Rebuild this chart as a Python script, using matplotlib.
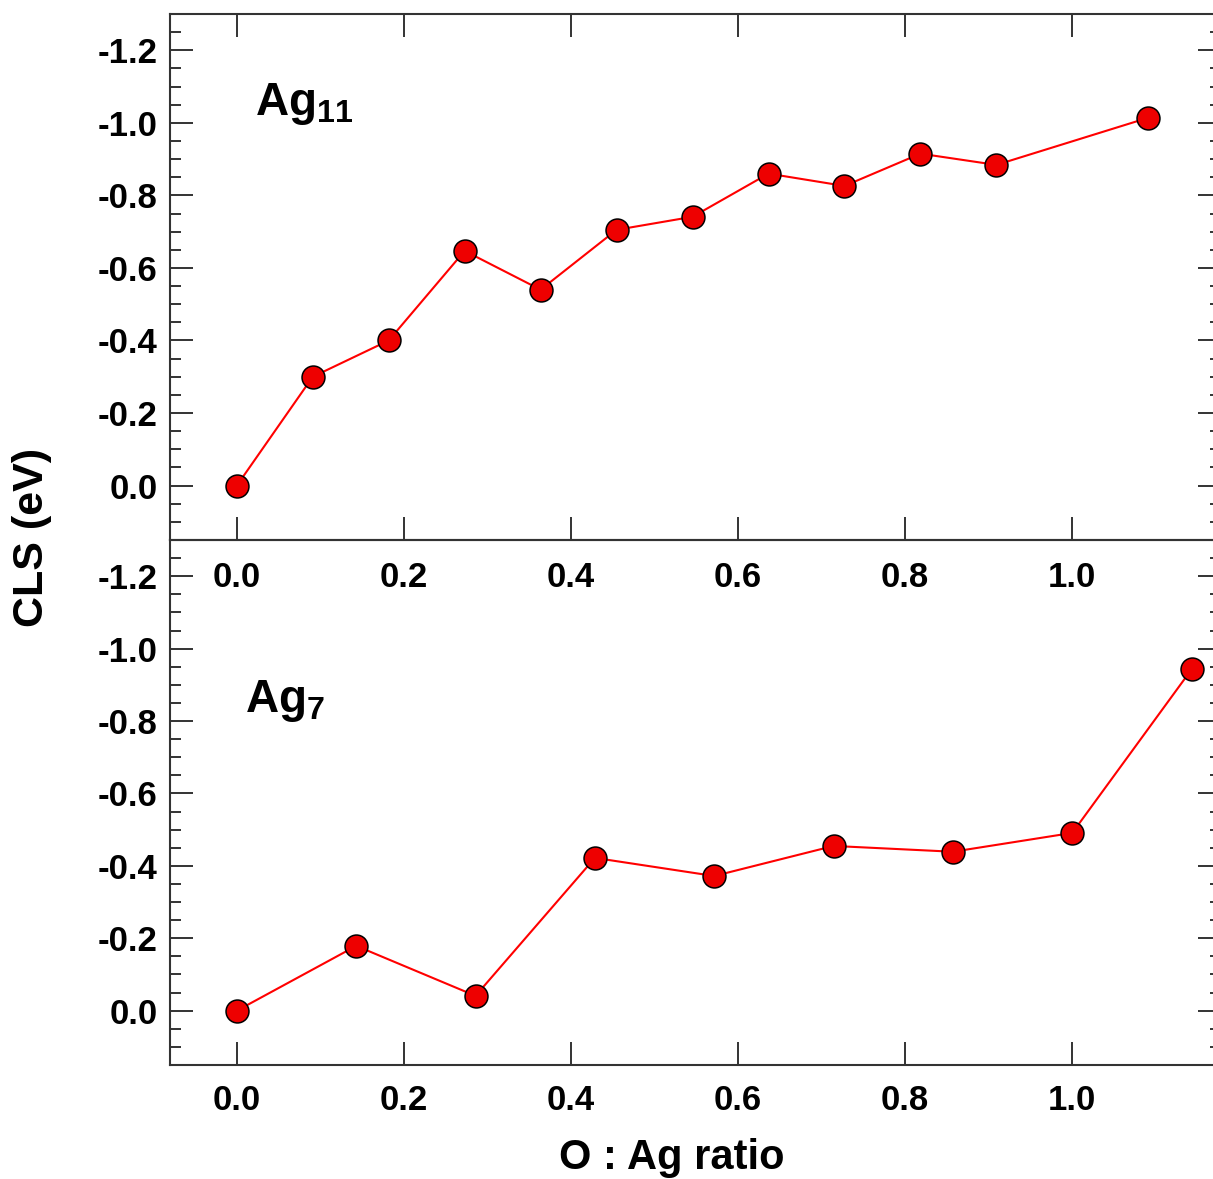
import matplotlib
matplotlib.use("Agg")
import matplotlib.pyplot as plt
from matplotlib.ticker import MultipleLocator

# data
ag11_x = [0.0, 0.0909, 0.1818, 0.2727, 0.3636, 0.4545, 0.5455, 0.6364, 0.7273, 0.8182, 0.9091, 1.0909]
ag11_cls = [0.0, -0.30, -0.40, -0.647, -0.54, -0.705, -0.741, -0.86, -0.826, -0.915, -0.884, -1.014]

ag7_x = [0.0, 0.1429, 0.2857, 0.4286, 0.5714, 0.7143, 0.8571, 1.0, 1.1429]
ag7_cls = [0.0, -0.179, -0.041, -0.422, -0.372, -0.455, -0.439, -0.491, -0.943]

xticks = [0.0, 0.2, 0.4, 0.6, 0.8, 1.0]
yticks = [0.0, -0.2, -0.4, -0.6, -0.8, -1.0, -1.2]

plt.rcParams['font.family'] = ['Liberation Sans', 'DejaVu Sans']
plt.rcParams['font.weight'] = 'bold'
plt.rcParams['mathtext.fontset'] = 'custom'
plt.rcParams['mathtext.rm'] = 'Liberation Sans:bold'
plt.rcParams['mathtext.bf'] = 'Liberation Sans:bold'

W, H = 1213, 1179
fig = plt.figure(figsize=(W / 100, H / 100), dpi=100)

left = 170 / W
width = (1221 - 170) / W
ax1 = fig.add_axes([left, 1 - 540 / H, width, (540 - 14) / H])
ax2 = fig.add_axes([left, 1 - 1065 / H, width, (1065 - 540) / H])

spine_col = '#333333'


def style(ax, top_ticks, xpad):
    ax.set_facecolor('none')
    ax.set_xlim(-0.08, 1.178)
    ax.set_ylim(0.15, -1.3)
    ax.set_xticks(xticks)
    ax.set_yticks(yticks)
    ax.yaxis.set_minor_locator(MultipleLocator(0.05))
    ax.tick_params(axis='both', which='major', direction='in', length=16.5, width=1.4,
                   color=spine_col, labelsize=25)
    ax.tick_params(axis='y', which='minor', direction='in', length=8, width=1.4,
                   color=spine_col, left=True, right=True)
    ax.tick_params(axis='y', which='both', left=True, right=True, labelright=False, pad=9)
    ax.tick_params(axis='x', which='major', top=top_ticks, bottom=True, labeltop=False, pad=xpad)
    ax.set_xticklabels(['%.1f' % t for t in xticks], fontweight='bold')
    ax.set_yticklabels(['%.1f' % t if t != 0 else '0.0' for t in yticks], fontweight='bold')
    for s in ax.spines.values():
        s.set_color(spine_col)
        s.set_linewidth(1.5)


style(ax1, True, 15)
style(ax2, False, 14)
ax1.set_zorder(3)

for ax, x, y in [(ax1, ag11_x, ag11_cls), (ax2, ag7_x, ag7_cls)]:
    ax.plot(x, y, color='#ff0000', lw=1.5, marker='o', markersize=16.5,
            markerfacecolor='#ee0000', markeredgecolor='black', markeredgewidth=1.1,
            clip_on=False, zorder=5)

fig.text(255 / W, 1 - 115 / H, r'$\mathbf{Ag}_{\mathbf{11}}$', fontsize=33,
         ha='left', va='baseline')
fig.text(245 / W, 1 - 712 / H, r'$\mathbf{Ag}_{\mathbf{7}}$', fontsize=33,
         ha='left', va='baseline')

fig.text(32 / W, 1 - 537 / H, 'CLS (eV)', rotation=90, fontsize=31,
         fontweight='bold', ha='center', va='center')
fig.text(672 / W, 1 - 1169 / H, 'O : Ag ratio', fontsize=30,
         fontweight='bold', ha='center', va='baseline')

fig.savefig('out.png', dpi=100)
